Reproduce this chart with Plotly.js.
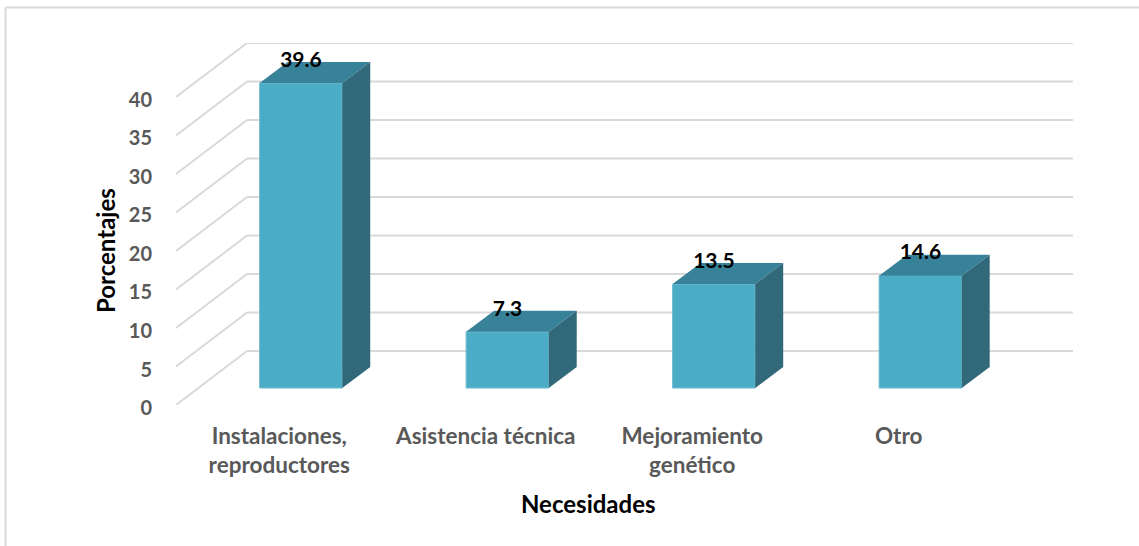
<!DOCTYPE html>
<html>
<head>
<meta charset="utf-8">
<script src="https://cdn.plot.ly/plotly-3.0.1.min.js"></script>
<style>html,body{margin:0;padding:0;background:#fff;overflow:hidden}#chart{width:1139px;height:546px}</style>
</head>
<body>
<div id="chart"></div>
<script>
const categories = ["Instalaciones,<br>reproductores", "Asistencia técnica", "Mejoramiento<br>genético", "Otro"];
const values = [39.6, 7.3, 13.5, 14.6];
const valueLabels = ["39.6", "7.3", "13.5", "14.6"];
const yTicks = [0, 5, 10, 15, 20, 25, 30, 35, 40];

// Fake-3D projection, expressed in axis units
const wallDx = 0.344, wallDy = 7.01;    // floor depth: front plane to back wall
const barOffsetX = 0.105, barBase = 2.2; // bar front face position within the floor
const barWidth = 0.4;
const faceDx = 0.1356, faceDy = 2.727;  // bar depth
const labelLift = 2.8;

const idx = categories.map((_, i) => i);
const xRange = [-0.5, categories.length - 0.5 + wallDx];
const yRange = [0, 40 + wallDy];

const font = "Lato, Carlito, sans-serif";
const GRID = "#d9d9d9", FRONT = "#4bacc6", TOP = "#388299", SIDE = "#31697b", TICK = "#595959";

const front = {
  type: "bar", x: idx.map(i => i + barOffsetX), y: values, base: barBase, width: barWidth,
  marker: {color: FRONT, line: {width: 1, color: "#6fbcd0"}}, hoverinfo: "skip", showlegend: false
};
function face(xs, ys, color) {
  return {type: "scatter", mode: "none", x: xs, y: ys, fill: "toself", fillcolor: color,
          hoverinfo: "skip", showlegend: false};
}
const tops = [], sides = [];
idx.forEach(i => {
  const l = i + barOffsetX - barWidth / 2, r = l + barWidth, t = barBase + values[i];
  tops.push(face([l, r, r + faceDx, l + faceDx, l], [t, t, t + faceDy, t + faceDy, t], TOP));
  sides.push(face([r, r + faceDx, r + faceDx, r, r],
                  [barBase, barBase + faceDy, t + faceDy, t, barBase], SIDE));
});
const labels = {
  type: "scatter", mode: "text", x: idx.map(i => i + barOffsetX),
  y: values.map(v => barBase + v + labelLift), text: valueLabels,
  textposition: "middle center", cliponaxis: false,
  textfont: {family: font, size: 21, color: "#000", weight: 700},
  hoverinfo: "skip", showlegend: false
};

const gridShapes = [];
yTicks.forEach(v => {
  const line = {type: "line", xref: "x", yref: "y", layer: "below", line: {color: GRID, width: 2}};
  gridShapes.push(Object.assign({}, line, {x0: xRange[0], y0: v, x1: xRange[0] + wallDx, y1: v + wallDy}));
  gridShapes.push(Object.assign({}, line, {x0: xRange[0] + wallDx, y0: v + wallDy, x1: xRange[1], y1: v + wallDy}));
});
const frameLine = {type: "line", xref: "paper", yref: "paper", layer: "below", line: {color: GRID, width: 2}};
const fl = (5.5 - 176) / 897, fr = (1139 - 176) / 897, ft = (405 - 7.5) / 362, fb = -141 / 362;
gridShapes.push(Object.assign({}, frameLine, {x0: fl, y0: ft, x1: fr, y1: ft}));
gridShapes.push(Object.assign({}, frameLine, {x0: fl, y0: ft, x1: fl, y1: fb}));

const titleFont = {family: font, size: 24, color: "#000", weight: 700};
const layout = {
  width: 1139, height: 546, margin: {l: 176, r: 66, t: 43, b: 141},
  paper_bgcolor: "#fff", plot_bgcolor: "rgba(0,0,0,0)", showlegend: false,
  barmode: "overlay", hovermode: false,
  shapes: gridShapes,
  annotations: [
    {text: "Necesidades", xref: "x", x: 1.5, yref: "paper", y: (405 - 503) / 362, xanchor: "center", yanchor: "middle",
     showarrow: false, font: titleFont},
    {text: "Porcentajes", xref: "paper", x: (106 - 176) / 897, yref: "y", y: 20, xanchor: "center", yanchor: "middle",
     textangle: -90, showarrow: false, font: titleFont}
  ],
  xaxis: {
    type: "linear", range: xRange, tickmode: "array", tickvals: idx, ticktext: categories,
    showgrid: false, zeroline: false, showline: false, ticks: "outside", ticklen: 11, tickcolor: "rgba(0,0,0,0)",
    tickangle: 0, tickfont: {family: font, size: 22.5, color: TICK, weight: 700}
  },
  yaxis: {
    range: yRange, tickmode: "array", tickvals: yTicks, ticklabelshift: 3,
    showgrid: false, zeroline: false, showline: false, ticks: "outside", ticklen: 19, tickcolor: "rgba(0,0,0,0)",
    tickfont: {family: font, size: 20, color: TICK, weight: 700}
  }
};
Plotly.newPlot("chart", [front].concat(tops, sides, [labels]), layout, {displayModeBar: false, staticPlot: true});
</script>
</body>
</html>
